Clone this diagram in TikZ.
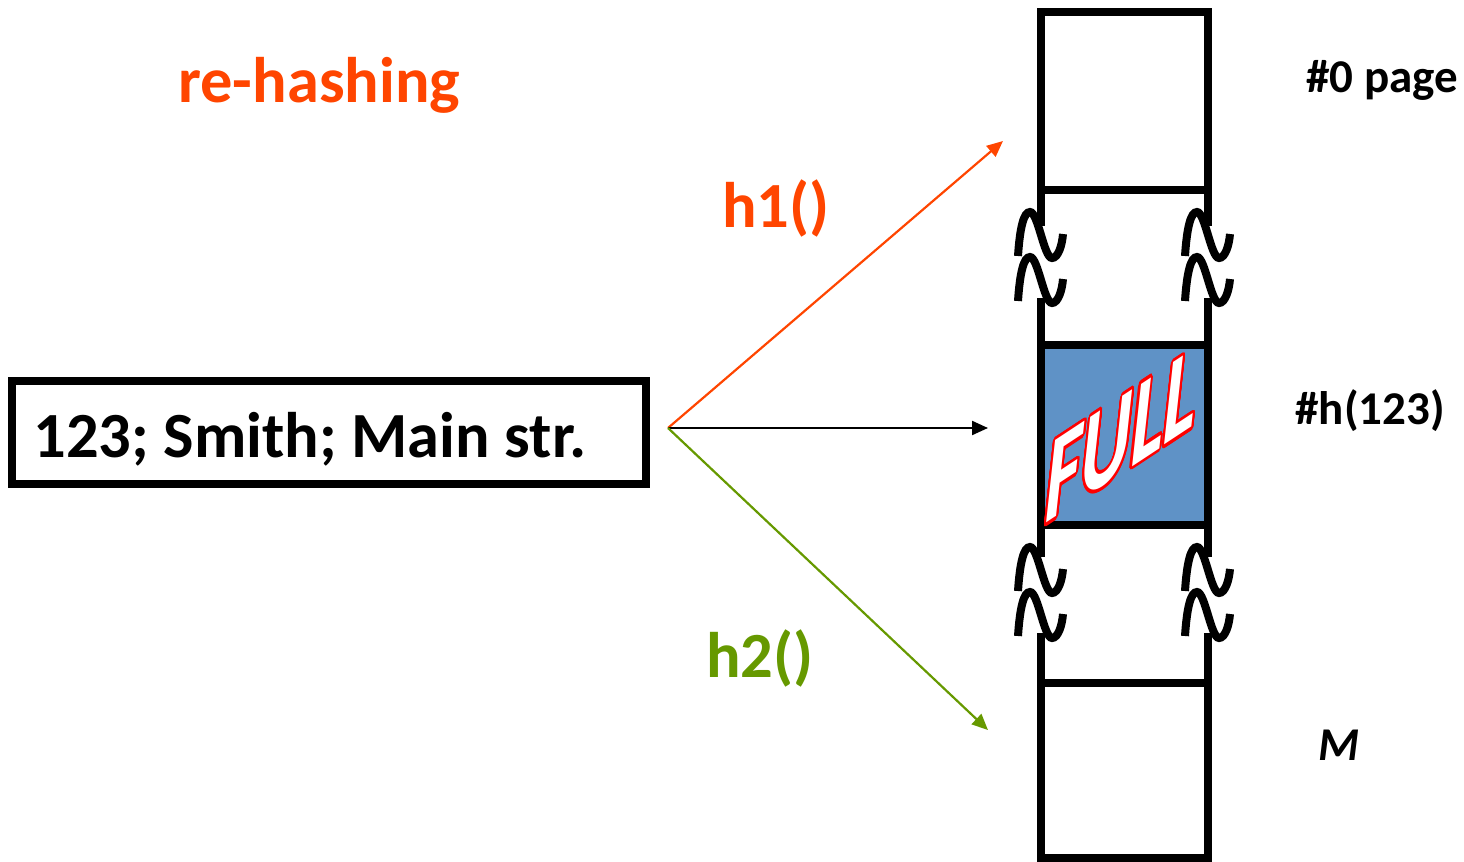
\documentclass[tikz,border=0pt]{standalone}
\usepackage{fontspec}
\setmainfont{Carlito}
\usepackage{contour}
\usetikzlibrary{arrows.meta}
\definecolor{hone}{RGB}{255,69,0}
\definecolor{htwo}{RGB}{102,153,0}
\definecolor{fullblue}{RGB}{95,146,198}
\contourlength{1pt}
\contournumber{32}
\newcommand\tildeshape[2]{%
  \begin{scope}[shift={(#1,#2)}]
  \draw[squig] (0,0) .. controls (2,-30) and (6,-44) .. (12,-44)
     .. controls (20,-44) and (26,2) .. (34,2)
     .. controls (40,2) and (44,-10) .. (45,-22);
  \end{scope}}
\begin{document}
\begin{tikzpicture}[x=0.5pt,y=-0.5pt,
  col/.style={line width=4pt, line cap=rect},
  squig/.style={line width=4pt},
  lbl/.style={anchor=base west, inner sep=0, font=\fontsize{32.2}{36}\selectfont\bfseries},
  side/.style={anchor=base west, inner sep=0, font=\fontsize{23.5}{28}\selectfont\bfseries},
  arr/.style={line width=1.1pt, -{Triangle[length=8pt,width=7pt]}}]
\useasboundingbox (0,0) rectangle (1464,862);
% record box
\node[draw, line width=4pt, minimum width=317pt, minimum height=51.5pt, inner sep=0] (rec) at (329,432.5) {};
\node[lbl] (rectext) at (33,457) {123; Smith; Main str.};
\node[lbl, text=hone] (title) at (178,102) {re-hashing};
\node[lbl, text=hone] (hone) at (722,227) {h1()};
\node[lbl, text=htwo] (htwo) at (706,677) {h2()};
% column
\fill[fullblue] (1041,345) rectangle (1208,525);
\draw[col] (1041,190) -- (1041,12) -- (1208,12) -- (1208,190);
\draw[col] (1041,190) -- (1208,190);
\draw[col] (1041,190) -- (1041,222);
\draw[col] (1208,190) -- (1208,222);
\draw[col] (1041,302) -- (1041,525);
\draw[col] (1208,302) -- (1208,525);
\draw[col] (1041,345) -- (1208,345);
\draw[col] (1041,525) -- (1208,525);
\draw[col] (1041,525) -- (1041,553);
\draw[col] (1208,525) -- (1208,553);
\draw[col] (1041,637) -- (1041,858) -- (1208,858) -- (1208,637);
\draw[col] (1041,683) -- (1208,683);
\tildeshape{1018}{256}
\tildeshape{1018}{301}
\tildeshape{1185}{256}
\tildeshape{1185}{301}
\tildeshape{1018}{591}
\tildeshape{1018}{636}
\tildeshape{1185}{591}
\tildeshape{1185}{636}
\node[inner sep=0, cm={1,0.66,0.18,1.65,(0,0)}, font=\fontsize{38.5}{42}\selectfont\bfseries] (full) at (1122,437) {\contour{red}{\textcolor{white}{FULL}}};
% labels
\node[side] (p0) at (1306,92) {\#0 page};
\node[side] (ph) at (1295,424) {\#h(123)};
\node[side, font=\fontsize{23.5}{28}\selectfont\bfseries\itshape] (pm) at (1318,760) {M};
% arrows
\coordinate (src) at (668,428);
\coordinate (t1) at (1003,141);
\coordinate (t0) at (988,428);
\coordinate (t2) at (988,730);
\draw[arr, hone] (src) -- (t1);
\draw[arr, black] (src) -- (t0);
\draw[arr, htwo] (src) -- (t2);
\end{tikzpicture}
\end{document}
